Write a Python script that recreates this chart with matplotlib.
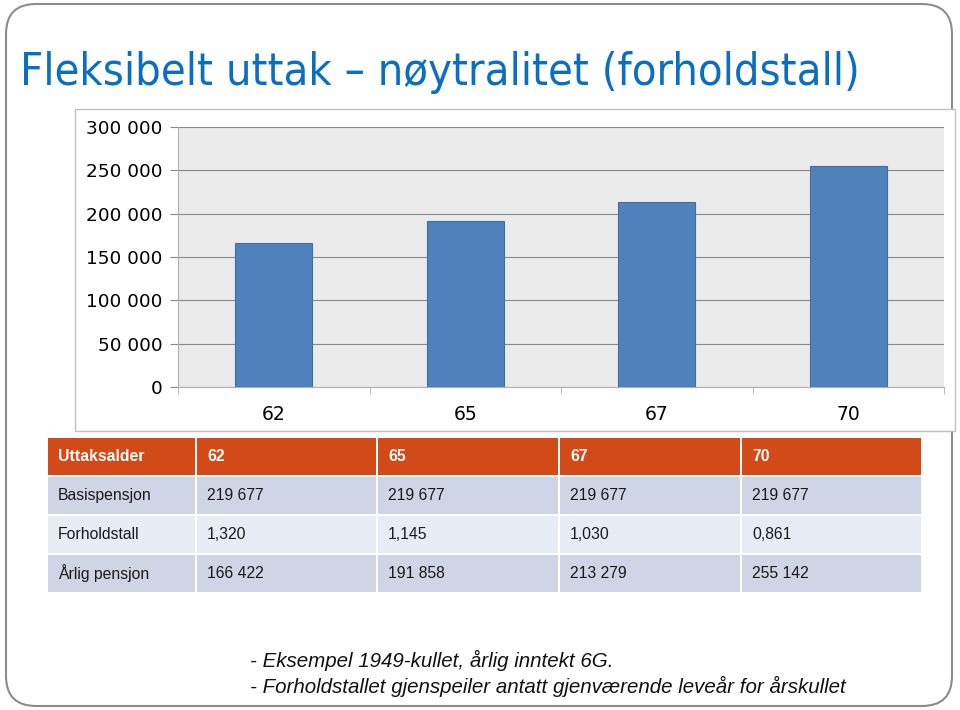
import matplotlib.pyplot as plt
from matplotlib.patches import Rectangle, FancyBboxPatch
from matplotlib.ticker import FuncFormatter
import numpy as np

# data
ages = ["62", "65", "67", "70"]
basis = [219677, 219677, 219677, 219677]
ratio = ["1,320", "1,145", "1,030", "0,861"]
annual = [166422, 191858, 213279, 255142]
row_labels = ["Uttaksalder", "Basispensjon", "Forholdstall", "Årlig pensjon"]
yticks = [0, 50000, 100000, 150000, 200000, 250000, 300000]

title = "Fleksibelt uttak \u2013 nøytralitet (forholdstall)"
notes = ["- Eksempel 1949-kullet, årlig inntekt 6G.",
         "- Forholdstallet gjenspeiler antatt gjenværende leveår for årskullet"]

W, H = 960, 710
fig = plt.figure(figsize=(W / 100, H / 100), dpi=100)

# background overlay in pixel coords
bg = fig.add_axes([0, 0, 1, 1])
bg.set_xlim(0, W)
bg.set_ylim(H, 0)
bg.axis("off")

bg.add_patch(FancyBboxPatch((6, 4), 946, 702, boxstyle="round,pad=0,rounding_size=30",
                            fc="white", ec="#8c8c8c", lw=1.5))
bg.text(20, 73, title, color="#0a6fc2", fontsize=32.4, va="center", ha="left",
        family="DejaVu Sans", fontstretch="condensed")

# chart frame
bg.add_patch(Rectangle((75, 109), 880, 322, fc="white", ec="#c0c0c0", lw=1))


def fmt(v):
    return f"{int(v):,}".replace(",", " ")


# bar chart
x0, x1, ytop, ybot = 178, 944, 127, 387
ax = fig.add_axes([x0 / W, 1 - ybot / H, (x1 - x0) / W, (ybot - ytop) / H])
ax.set_facecolor("#ebebeb")
xs = np.arange(len(ages))
ax.bar(xs, annual, width=0.4, color="#4f81bd", edgecolor="#3f6fa8", lw=0.8, zorder=3)
ax.set_xlim(-0.5, len(ages) - 0.5)
ax.set_ylim(0, 300000)
ax.set_yticks(yticks)
ax.yaxis.set_major_formatter(FuncFormatter(lambda v, p: fmt(v)))
ax.set_xticks(xs)
ax.set_xticklabels(ages)
ax.grid(axis="y", color="#8a8a8a", lw=0.8, zorder=1)
for s in ["top", "right"]:
    ax.spines[s].set_visible(False)
ax.spines["left"].set_color("#b0b0b0")
ax.spines["bottom"].set_color("#b0b0b0")
ax.tick_params(axis="y", length=6, color="#8a8a8a", labelsize=13.3, pad=5)
ax.tick_params(axis="x", length=0, labelsize=13.5, pad=13)
ax.set_xticks(np.arange(len(ages) + 1) - 0.5, minor=True)
ax.tick_params(axis="x", which="minor", length=5, color="#b0b0b0", direction="out")

# table
col_x = [48, 197, 378, 560, 742]
col_w = [147, 179, 180, 180, 179]
row_y = [438, 477, 516, 555]
row_h = 37
row_fc = ["#d24a17", "#cfd5e4", "#e8ecf4", "#cfd5e4"]
cells = [ages,
         [fmt(v) for v in basis],
         ratio,
         [fmt(v) for v in annual]]
for r in range(4):
    vals = [row_labels[r]] + list(cells[r])
    for c in range(5):
        bg.add_patch(Rectangle((col_x[c], row_y[r]), col_w[c], row_h,
                               fc=row_fc[r], ec="none"))
        bg.text(col_x[c] + 10, row_y[r] + row_h / 2, vals[c],
                fontsize=11.3, va="center", ha="left",
                family="Liberation Sans",
                color="white" if r == 0 else "#1a1a1a",
                fontweight="bold" if r == 0 else "normal")

# notes
for i, t in enumerate(notes):
    bg.text(250, 660 + i * 26, t, fontsize=14.8, style="italic", va="center", ha="left",
            family="Liberation Sans", color="#111111")

fig.savefig("out.png", dpi=100)
